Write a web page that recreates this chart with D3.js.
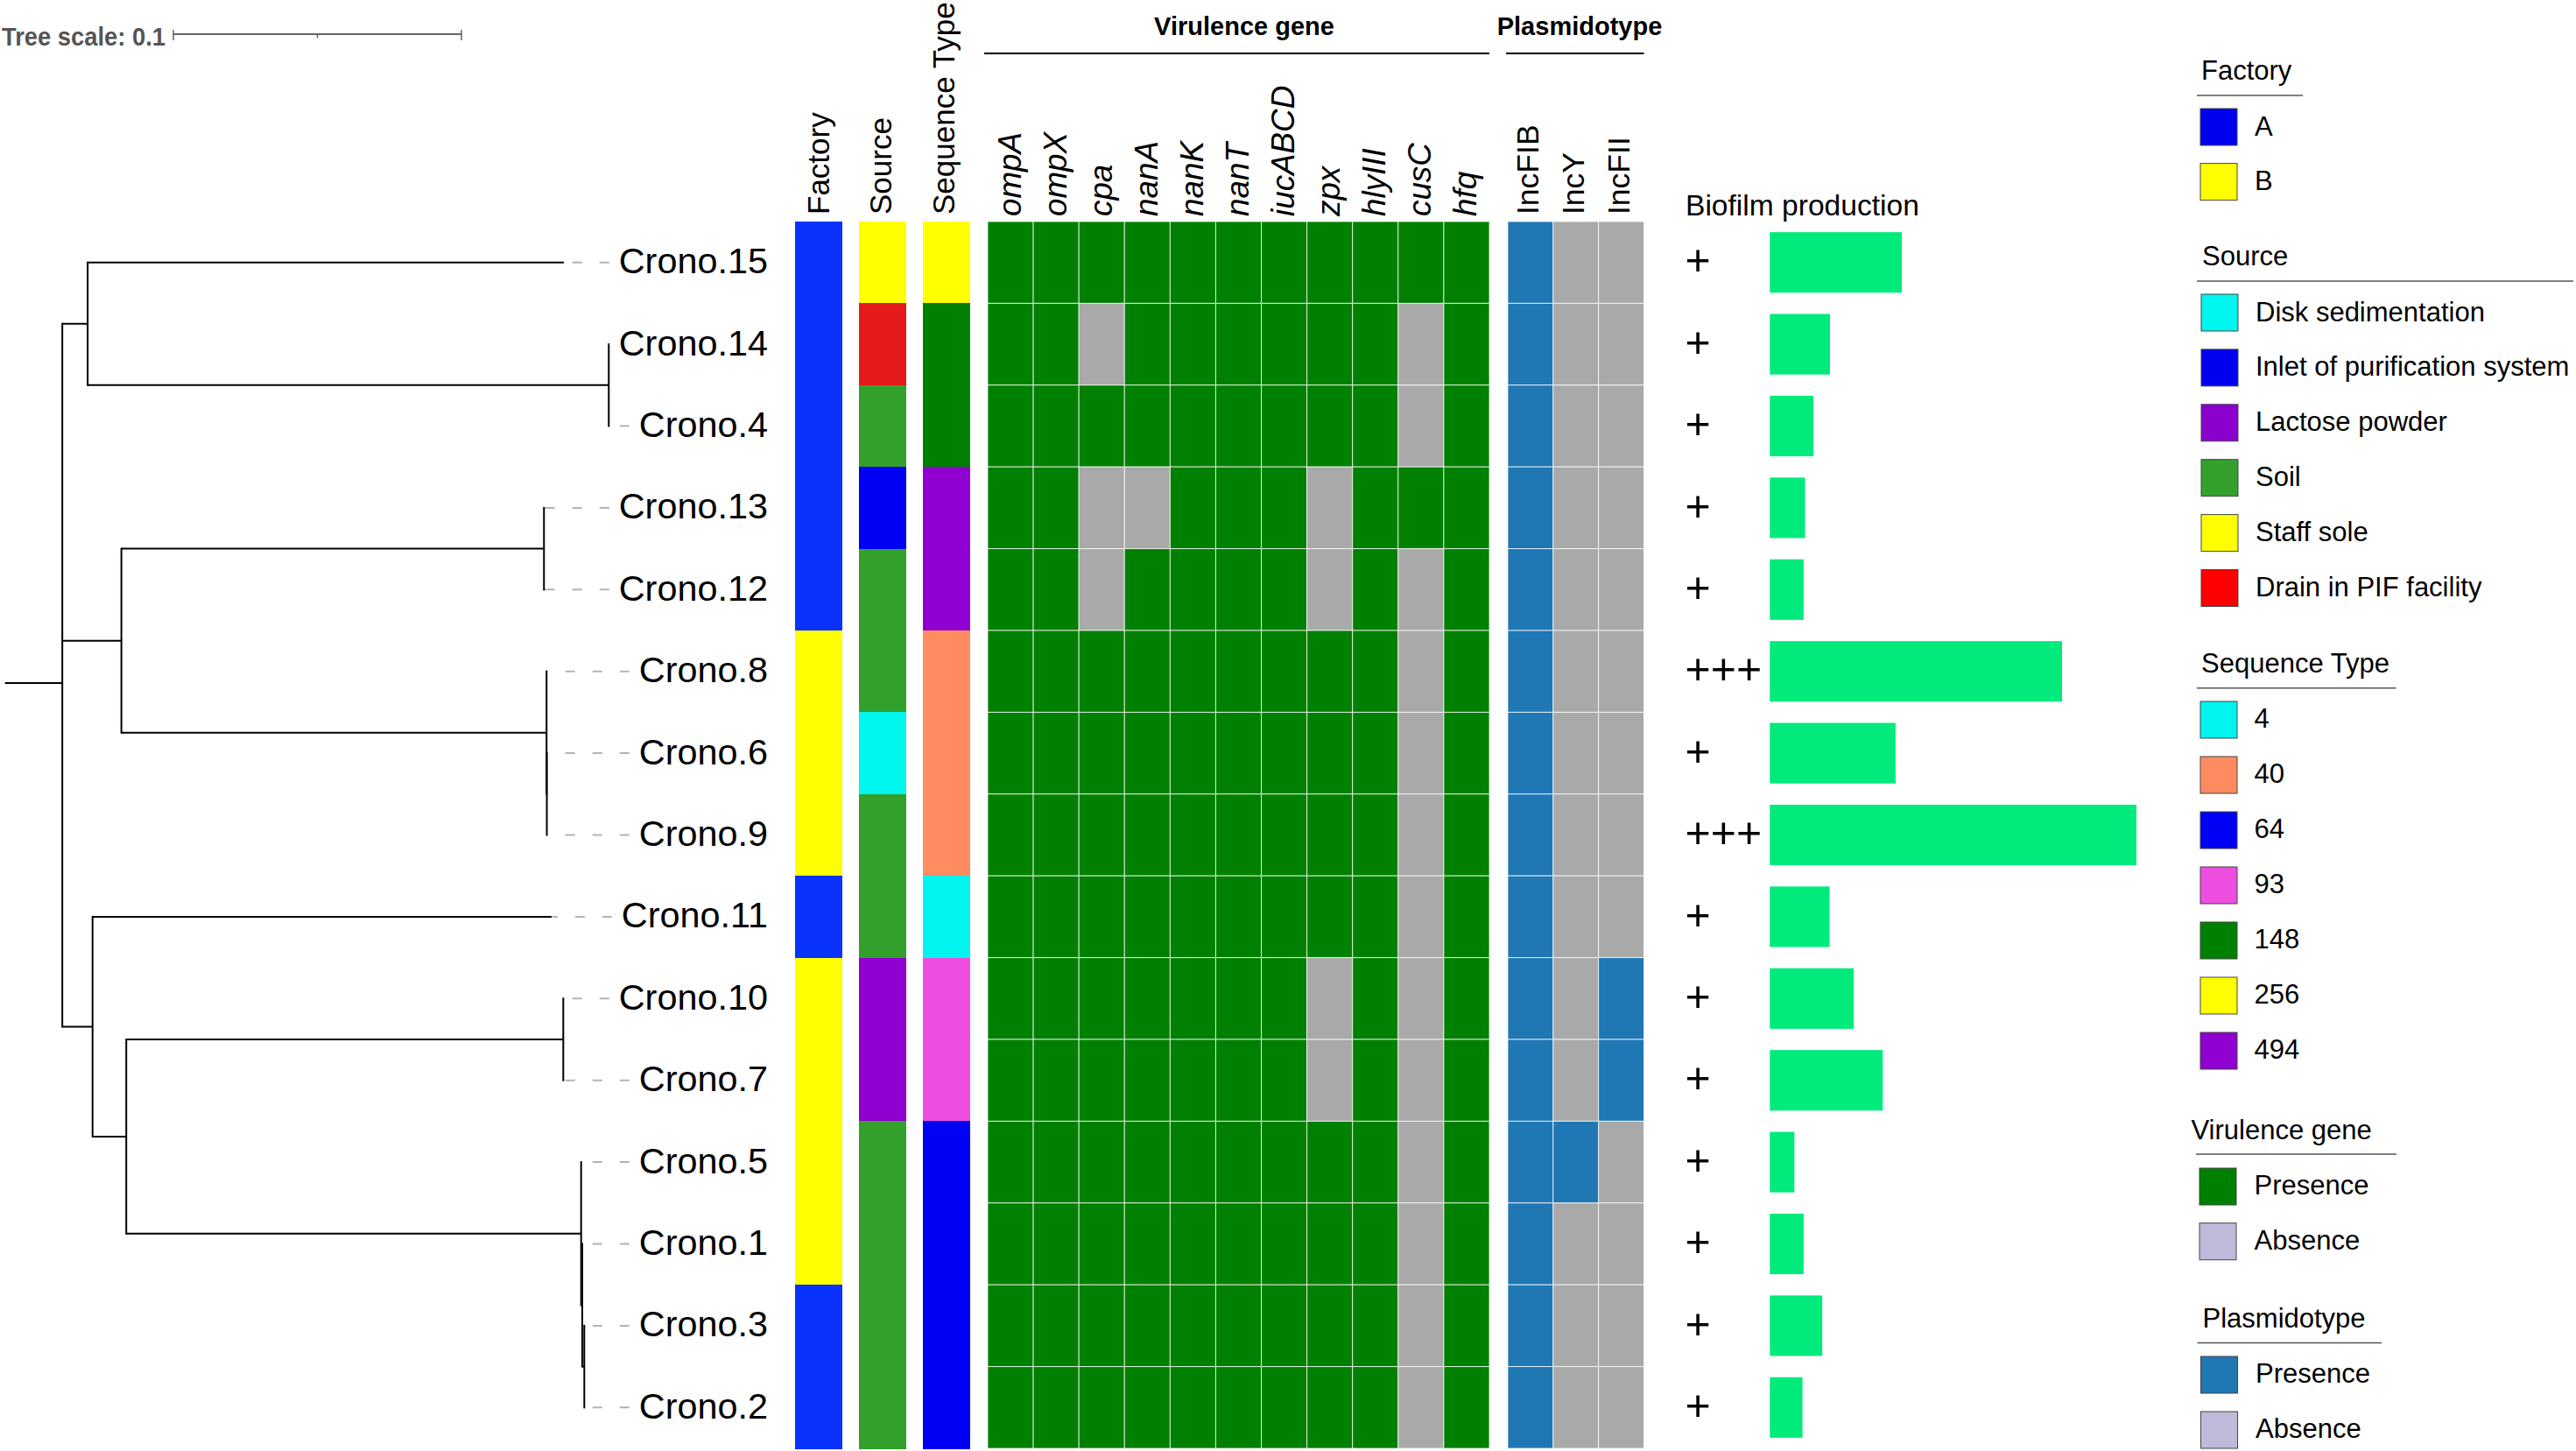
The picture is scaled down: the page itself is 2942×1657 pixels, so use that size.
<!DOCTYPE html>
<html>
<head>
<meta charset="utf-8">
<script src="https://cdn.jsdelivr.net/npm/d3@7"></script>
<style>
html,body{margin:0;padding:0;background:#fff;overflow:hidden}
svg{display:block;font-family:"Liberation Sans",Arial,sans-serif}
</style>
</head>
<body>
<svg id="c" width="2942" height="1657" viewBox="0 0 2942 1657"></svg>
<script>
// ---------- data ----------
const treeNewick = "((Crono.15:0.1653,(Crono.14:0.0001,Crono.4:0.0001):0.1809):0.0088,((Crono.13:0.0003,Crono.12:0.0003):0.1467,(Crono.8:0.0001,(Crono.6:0.0001,Crono.9:0.0001):0.0001):0.1476):0.0205,(Crono.11:0.1594,((Crono.10:0.0001,Crono.7:0.0001):0.1517,(Crono.5:0.0001,(Crono.1:0.0001,(Crono.3:0.0001,Crono.2:0.0001):0.0007):0.0004):0.1579):0.0117):0.0105):0.0199;";
const rootStubRow = 5.642;
const strains = ["Crono.15","Crono.14","Crono.4","Crono.13","Crono.12","Crono.8","Crono.6","Crono.9","Crono.11","Crono.10","Crono.7","Crono.5","Crono.1","Crono.3","Crono.2"];
const factory = ["A","A","A","A","A","B","B","B","A","B","B","B","B","A","A"];
const source = ["Staff sole","Drain in PIF facility","Soil","Inlet of purification system","Soil","Soil","Disk sedimentation","Soil","Soil","Lactose powder","Lactose powder","Soil","Soil","Soil","Soil"];
const sequenceType = ["256","148","148","494","494","40","40","40","4","93","93","64","64","64","64"];
const virulenceGenes = ["ompA","ompX","cpa","nanA","nanK","nanT","iucABCD","zpx","hlyIII","cusC","hfq"];
const virulenceMatrix = [
 [1,1,1,1,1,1,1,1,1,1,1],
 [1,1,0,1,1,1,1,1,1,0,1],
 [1,1,1,1,1,1,1,1,1,0,1],
 [1,1,0,0,1,1,1,0,1,1,1],
 [1,1,0,1,1,1,1,0,1,0,1],
 [1,1,1,1,1,1,1,1,1,0,1],
 [1,1,1,1,1,1,1,1,1,0,1],
 [1,1,1,1,1,1,1,1,1,0,1],
 [1,1,1,1,1,1,1,1,1,0,1],
 [1,1,1,1,1,1,1,0,1,0,1],
 [1,1,1,1,1,1,1,0,1,0,1],
 [1,1,1,1,1,1,1,1,1,0,1],
 [1,1,1,1,1,1,1,1,1,0,1],
 [1,1,1,1,1,1,1,1,1,0,1],
 [1,1,1,1,1,1,1,1,1,0,1]
];
const plasmids = ["IncFIB","IncY","IncFII"];
const plasmidMatrix = [
 [1,0,0],[1,0,0],[1,0,0],[1,0,0],[1,0,0],[1,0,0],[1,0,0],[1,0,0],[1,0,0],
 [1,0,1],[1,0,1],[1,1,0],[1,0,0],[1,0,0],[1,0,0]
];
const biofilmGrade = ["+","+","+","+","+","+++","+","+++","+","+","+","+","+","+","+"];
const biofilmValue = [0.360,0.164,0.119,0.096,0.092,0.797,0.343,1.000,0.163,0.229,0.308,0.067,0.092,0.143,0.089];

const factoryNames = ["A","B"];
const factoryStripColors = ["#0A32FF","#FFFF00"];
const factoryKeyColors = ["#0000F0","#FFFF00"];
const sourceNames = ["Disk sedimentation","Inlet of purification system","Lactose powder","Soil","Staff sole","Drain in PIF facility"];
const sourceStripColors = ["#00F7F0","#0000F5","#9000D0","#33A02C","#FFFF00","#E41A1C"];
const sourceKeyColors = ["#00F7F0","#0000F0","#8A00CC","#33A02C","#FFFF00","#FF0000"];
const stNames = ["4","40","64","93","148","256","494"];
const stColors = ["#00F5EE","#FF8C60","#0000F5","#EE4EDF","#008000","#FFFF00","#9000D0"];
const presenceNames = ["Presence","Absence"];
const virulenceColors = ["#008000","#BEBADA"];
const plasmidKeyColors = ["#1F77B4","#BEBADA"];
const cellAbsent = "#A9A9A9";
const barColor = "#00EB7B";

// ---------- helpers ----------
function parseNewick(s){
  let i=0;
  function node(){
    const n={name:"",len:0,children:null};
    if(s[i]==="("){
      i++; n.children=[node()];
      while(s[i]===","){i++; n.children.push(node());}
      i++;
    }
    let t=""; while(i<s.length && !",():;".includes(s[i])) t+=s[i++];
    n.name=t;
    if(s[i]===":"){ i++; let l=""; while(i<s.length && !",();".includes(s[i])) l+=s[i++]; n.len=+l; }
    return n;
  }
  return node();
}
const svg=d3.select("#c");
svg.append("rect").attr("width",2942).attr("height",1657).attr("fill","#fff");

// ---------- scales ----------
const rowBand=d3.scaleBand().domain(strains).range([253,1654]);
const rowPos=d3.scaleLinear().domain([0,strains.length]).range([253,1654]);
const rowC=n=>rowBand(n)+rowBand.bandwidth()/2;
const treeX=d3.scaleLinear().domain([0,0.1]).range([5.7,334.7]);
const barScaleX=d3.scaleLinear().domain([0,0.1]).range([198,527]);
const geneX=d3.scaleBand().domain(virulenceGenes).range([1128,1701]);
const plasX=d3.scaleBand().domain(plasmids).range([1722,1877.5]);
const bioY=d3.scaleBand().domain(strains).range([253,1654]).paddingInner(0.26).paddingOuter(0.13);
const bioX=d3.scaleLinear().domain([0,1]).range([2021.3,2440]);
const facColor=d3.scaleOrdinal(factoryNames,factoryStripColors);
const srcColor=d3.scaleOrdinal(sourceNames,sourceStripColors);
const stColor=d3.scaleOrdinal(stNames,stColors);

// ---------- tree ----------
const root=d3.hierarchy(parseNewick(treeNewick));
root.eachBefore(d=>{d.dist=(d.parent?d.parent.dist:0)+d.data.len;});
root.eachAfter(d=>{
  if(d.children){ d.yy=(d.children[0].yy+d.children[d.children.length-1].yy)/2; }
  else d.yy=rowC(d.data.name);
});
const gTree=svg.append("g").attr("stroke","#000").attr("stroke-width",2).attr("fill","none");
gTree.append("line").attr("x1",treeX(0)).attr("x2",treeX(root.dist)).attr("y1",rowPos(rootStubRow)).attr("y2",rowPos(rootStubRow));
root.descendants().forEach(d=>{
  if(d.parent){
    gTree.append("line").attr("x1",treeX(d.parent.dist)).attr("x2",treeX(d.dist)).attr("y1",d.yy).attr("y2",d.yy);
  }
  if(d.children){
    const a=d.children[0],b=d.children[d.children.length-1];
    gTree.append("line").attr("x1",treeX(d.dist)).attr("x2",treeX(d.dist)).attr("y1",a.yy-1).attr("y2",b.yy+1);
  }
});
// labels + leader lines
root.leaves().forEach(d=>{
  const y=rowC(d.data.name);
  const t=svg.append("text").attr("x",877).attr("y",y+12.5).attr("text-anchor","end")
    .attr("font-size",41.4).attr("fill","#000").text(d.data.name);
  const w=t.node().getComputedTextLength();
  const end=877-w-11;
  svg.append("line").attr("x1",end).attr("x2",treeX(d.dist)+1).attr("y1",y).attr("y2",y)
    .attr("stroke","#b3b3b3").attr("stroke-width",2).attr("stroke-dasharray","11 20");
});
// tree scale
svg.append("text").attr("x",2).attr("y",52).attr("font-size",29).attr("font-weight","bold").attr("fill","#555")
  .attr("textLength",187).attr("lengthAdjust","spacingAndGlyphs").text("Tree scale: 0.1");
const gs=svg.append("g").attr("stroke","#666");
gs.append("line").attr("x1",barScaleX(0)).attr("x2",barScaleX(0.1)).attr("y1",39).attr("y2",39).attr("stroke-width",2);
[[0,34,46],[0.05,39,43.5],[0.1,34,46]].forEach(t=>{
  gs.append("line").attr("x1",barScaleX(t[0])).attr("x2",barScaleX(t[0])).attr("y1",t[1]).attr("y2",t[2]).attr("stroke-width",1.5);
});

// ---------- colour strips ----------
function strip(x,w,values,color){
  svg.append("g").attr("shape-rendering","crispEdges").selectAll("rect").data(values).join("rect")
    .attr("x",x).attr("width",w)
    .attr("y",(v,i)=>rowBand(strains[i])).attr("height",rowBand.bandwidth()+0.5)
    .attr("fill",v=>color(v));
}
strip(908,54,factory,facColor);
strip(981,54,source,srcColor);
strip(1054,54,sequenceType,stColor);

// ---------- heat maps ----------
function heat(cols,xs,matrix,onColor){
  const g=svg.append("g");
  matrix.forEach((row,r)=>{
    g.selectAll(null).data(row).join("rect")
      .attr("x",(v,c)=>xs(cols[c])).attr("width",xs.bandwidth())
      .attr("y",rowBand(strains[r])).attr("height",rowBand.bandwidth())
      .attr("fill",v=>v?onColor:cellAbsent)
      .attr("stroke","#fff").attr("stroke-opacity",0.75).attr("stroke-width",1);
  });
}
heat(virulenceGenes,geneX,virulenceMatrix,virulenceColors[0]);
heat(plasmids,plasX,plasmidMatrix,plasmidKeyColors[0]);

// ---------- column headers ----------
function vlabel(x,y,txt,size,italic){
  svg.append("text").attr("transform",`translate(${x},${y}) rotate(-90)`)
    .attr("font-size",size).attr("font-style",italic?"italic":"normal").attr("fill","#000").text(txt);
}
vlabel(946.5,245,"Factory",35);
vlabel(1017.5,245,"Source",35);
vlabel(1090,245,"Sequence Type",35);
virulenceGenes.forEach(g=>vlabel(geneX(g)+geneX.bandwidth()/2+11.5,247,g,36.8,true));
plasmids.forEach(p=>vlabel(plasX(p)+plasX.bandwidth()/2+9.5,245,p,35.5,false));

svg.append("text").attr("x",1421).attr("y",40).attr("text-anchor","middle").attr("font-size",29).attr("font-weight","bold").text("Virulence gene");
svg.append("text").attr("x",1804).attr("y",40).attr("text-anchor","middle").attr("font-size",29).attr("font-weight","bold").text("Plasmidotype");
svg.append("line").attr("x1",1124).attr("x2",1701).attr("y1",61).attr("y2",61).attr("stroke","#000").attr("stroke-width",2);
svg.append("line").attr("x1",1720).attr("x2",1877.5).attr("y1",61).attr("y2",61).attr("stroke","#000").attr("stroke-width",2);

// ---------- biofilm ----------
svg.append("text").attr("x",1925).attr("y",246).attr("font-size",33.6).text("Biofilm production");
svg.append("g").selectAll("text").data(biofilmGrade).join("text")
  .attr("x",1924.5).attr("y",(v,i)=>rowC(strains[i])+14.6).attr("font-size",50).text(v=>v);
svg.append("g").selectAll("rect").data(biofilmValue).join("rect")
  .attr("x",bioX(0)).attr("y",(v,i)=>bioY(strains[i])).attr("height",bioY.bandwidth())
  .attr("width",v=>bioX(v)-bioX(0)).attr("fill",barColor);

// ---------- legends ----------
function legend(o){
  const g=svg.append("g");
  g.append("text").attr("x",o.tx).attr("y",o.ty).attr("font-size",31).attr("fill","#000").text(o.title);
  g.append("line").attr("x1",o.ux1).attr("x2",o.ux2).attr("y1",o.uy).attr("y2",o.uy).attr("stroke","#555").attr("stroke-width",1.5);
  const ky=d3.scalePoint().domain(o.names).range([o.y0,o.y0+o.step*(o.names.length-1)]);
  o.names.forEach((n,i)=>{
    g.append("rect").attr("x",o.sx).attr("y",ky(n)).attr("width",42).attr("height",42)
      .attr("fill",o.colors[i]).attr("stroke","#444").attr("stroke-width",1);
    g.append("text").attr("x",o.lx).attr("y",ky(n)+o.ldy).attr("font-size",31).attr("fill","#000").text(n);
  });
}
legend({title:"Factory",tx:2514,ty:90.5,ux1:2509,ux2:2630,uy:109,names:factoryNames,colors:factoryKeyColors,sx:2513,y0:124,step:62.6,lx:2575,ldy:30.5});
legend({title:"Source",tx:2515,ty:303,ux1:2509,ux2:2939,uy:321,names:sourceNames,colors:sourceKeyColors,sx:2514,y0:336,step:62.9,lx:2576,ldy:30.5});
legend({title:"Sequence Type",tx:2514,ty:768,ux1:2509,ux2:2736.5,uy:785.7,names:stNames,colors:stColors,sx:2513,y0:801,step:63,lx:2574.5,ldy:30});
legend({title:"Virulence gene",tx:2502.5,ty:1301,ux1:2508,ux2:2737,uy:1318,names:presenceNames,colors:virulenceColors,sx:2512,y0:1334,step:62.7,lx:2574.5,ldy:30});
legend({title:"Plasmidotype",tx:2515.5,ty:1516,ux1:2509.5,ux2:2720,uy:1533.5,names:presenceNames,colors:plasmidKeyColors,sx:2513.5,y0:1549,step:63,lx:2576,ldy:30});
</script>
</body>
</html>
